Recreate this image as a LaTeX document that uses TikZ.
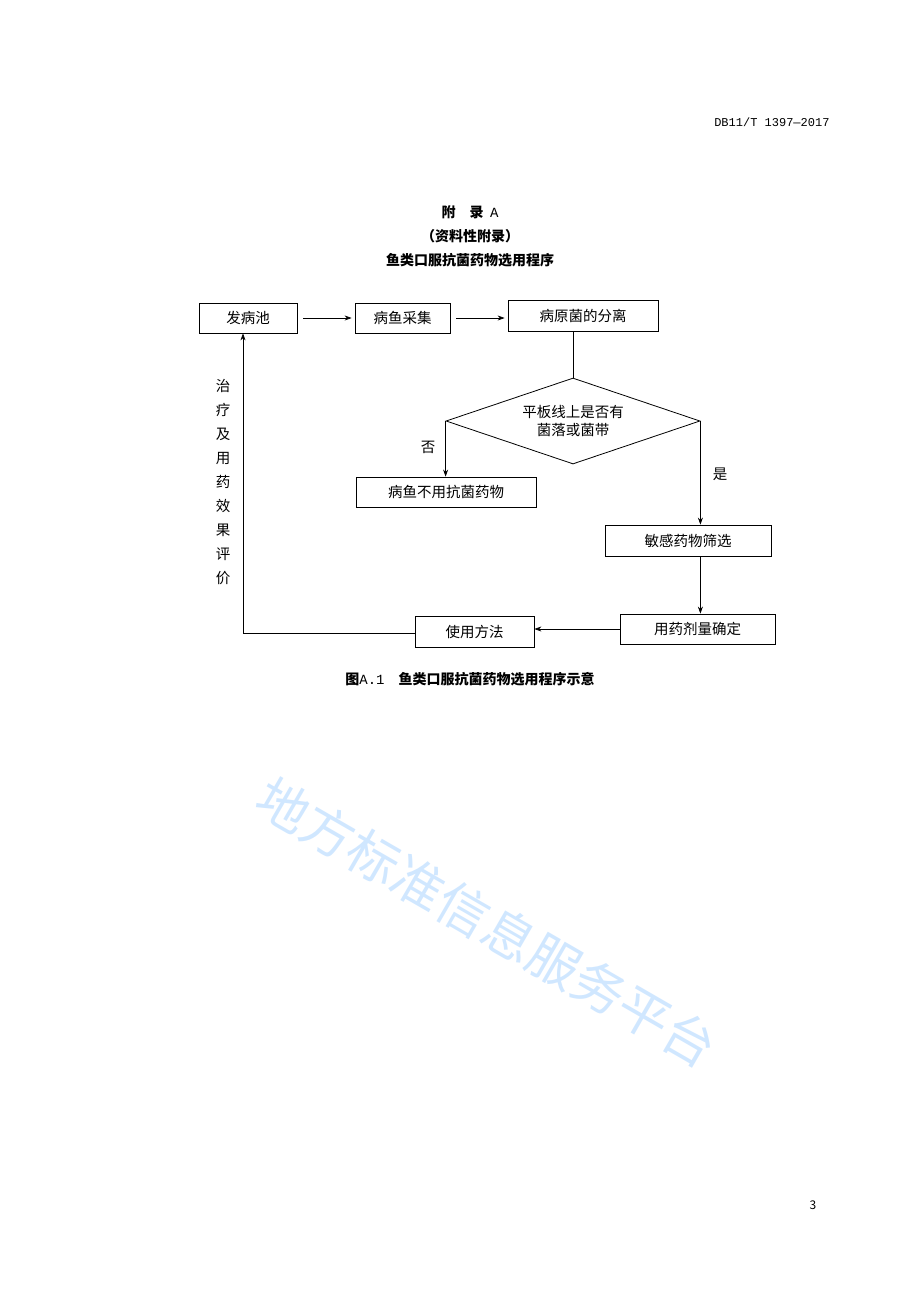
\documentclass[tikz,border=0pt]{standalone}
\usepackage{fontspec}
\setmainfont{Noto Sans CJK SC}
\newfontfamily\monof{Liberation Mono}
\usetikzlibrary{shapes.geometric,arrows.meta}
\begin{document}
\begin{tikzpicture}[x=1pt,y=-1pt,
  bx/.style={draw,line width=0.8pt,minimum height=30pt,inner sep=0pt,font=\fontsize{14.5}{16}\selectfont},
  ar/.style={-{Stealth[length=7pt,width=5pt]},line width=0.7pt},
  ln/.style={line width=0.7pt},
  tx/.style={font=\fontsize{14.5}{16}\selectfont}]
\fill[white] (0,0) rectangle (920,1302);
\useasboundingbox (0,0) rectangle (920,1302);
\node[text=blue!50!cyan!60,opacity=0.3,rotate=-30,font=\fontsize{52}{56}\selectfont\itshape] (wm) at (487,922) {地方标准信息服务平台};
\node[font=\monof\fontsize{12}{14}\selectfont,anchor=east] (hdr) at (833,122) {DB11/T 1397—2017};
\node[font=\fontsize{14}{16}\selectfont\bfseries] (t1) at (470,212) {附\quad 录\ \ {\monof\mdseries A}};
\node[font=\fontsize{14}{16}\selectfont\bfseries] (t2) at (470,236) {（资料性附录）};
\node[font=\fontsize{14}{16}\selectfont\bfseries] (t3) at (470,260) {鱼类口服抗菌药物选用程序};
\node[bx,minimum width=98pt] (a) at (248,318) {发病池};
\node[bx,minimum width=95pt] (b) at (402.5,318) {病鱼采集};
\node[bx,minimum width=150pt,minimum height=31pt] (c) at (583,315.5) {病原菌的分离};
\node[draw,line width=0.8pt,diamond,aspect=2.95,minimum width=254pt,minimum height=86pt,inner sep=0pt,align=center,font=\fontsize{14.5}{18}\selectfont] (d) at (573,421) {平板线上是否有\\菌落或菌带};
\node[bx,minimum width=180pt] (e) at (446,492) {病鱼不用抗菌药物};
\node[bx,minimum width=166pt,minimum height=31pt] (f) at (688,540.5) {敏感药物筛选};
\node[bx,minimum width=155pt] (g) at (697.5,629) {用药剂量确定};
\node[bx,minimum width=119pt,minimum height=31pt] (h) at (474.5,631.5) {使用方法};
\draw[ar] ([xshift=6pt]a.east) -- ([xshift=-3pt]b.west);
\draw[ar] ([xshift=6pt]b.east) -- ([xshift=-3pt]b.east -| c.west);
\draw[ln] (c.south -| d.north) -- (d.north);
\draw[ar] (d.west) -- (d.west |- e.north);
\draw[ar] (d.east) -- (d.east |- f.north);
\draw[ar] (f.south -| d.east) -- (d.east |- g.north);
\draw[ar] (g.west) -- (g.west -| h.east);
\coordinate (k) at (243,633);
\draw[ar] (h.west |- k) -- (k) -- (a.south -| k);
\node[tx] (no) at (428,447) {否};
\node[tx] (yes) at (720,474) {是};
\node[tx,align=center,font=\fontsize{14.5}{24}\selectfont] (v) at (223,482) {治\\疗\\及\\用\\药\\效\\果\\评\\价};
\node[font=\fontsize{14}{16}\selectfont\bfseries] (cap) at (470,679) {图{\monof\mdseries A.1}\quad 鱼类口服抗菌药物选用程序示意};
\node[font=\fontsize{12}{14}\selectfont] (pg) at (813,1205) {3};
\end{tikzpicture}
\end{document}
